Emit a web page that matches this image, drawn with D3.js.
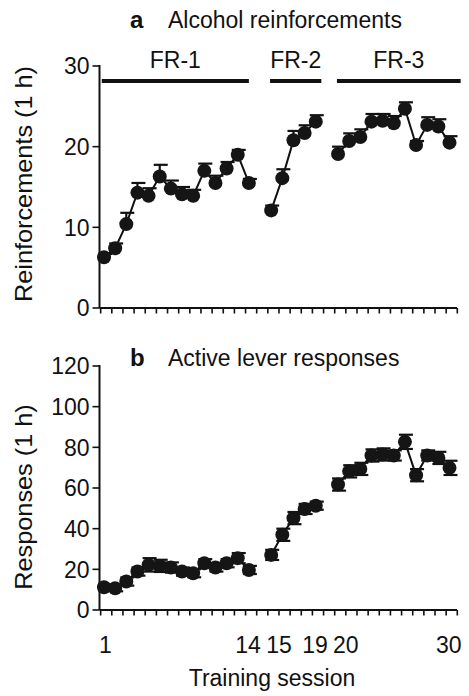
<!DOCTYPE html>
<head>
    <meta charset="utf-8">
    <style>
        body { margin: 0; background: #fff; }
        svg { display: block; font-family: "Liberation Sans", Arial, sans-serif; }
        text { fill: #111; }
    </style>
</head>
<body>
<svg width="469" height="696"></svg>
<script src="https://d3js.org/d3.v7.min.js"></script>
<script>

// training sessions and the three schedule phases
var sessions = [1, 2, 3, 4, 5, 6, 7, 8, 9, 10, 11, 12, 13, 14, 15, 16, 17, 18, 19, 20, 21, 22, 23, 24, 25, 26, 27, 28, 29, 30];
var phases = ["FR-1", "FR-2", "FR-3"];
var phaseFirst = [1, 15, 20];
var phaseLast = [14, 19, 30];
var phaseBarFrom = [0.8, 14.9, 19.9];
var phaseBarTo = [14, 19.5, 31];

// panel a: alcohol reinforcements (mean, sem)
var reinforcements = [6.3, 7.4, 10.4, 14.3, 13.9, 16.3, 14.8, 14.1, 13.9, 17.0, 15.5, 17.3, 19.0, 15.5,
                      12.1, 16.1, 20.8, 21.7, 23.1,
                      19.1, 20.7, 21.2, 23.1, 23.2, 22.9, 24.7, 20.2, 22.7, 22.5, 20.5];
var reinforcementsErr = [0.4, 0.6, 1.4, 1.2, 0.95, 1.45, 1.0, 0.9, 0.75, 0.9, 0.9, 0.8, 0.6, 0.5,
                         0.6, 1.1, 1.15, 0.95, 0.8,
                         0.9, 0.95, 0.95, 0.95, 0.85, 0.9, 0.8, 0.5, 0.95, 0.9, 0.8];

// panel b: active lever responses (mean, sem)
var responses = [11.2, 10.7, 14.0, 18.9, 22.2, 21.7, 20.9, 18.9, 18.1, 23.0, 20.9, 23.0, 25.5, 19.7,
                 27.1, 37.0, 45.2, 49.7, 51.3,
                 61.7, 68.2, 69.4, 76.0, 76.5, 76.0, 82.7, 66.3, 76.0, 74.8, 69.9];
var responsesErr = [1.5, 1.5, 2, 2, 3.3, 3, 2.5, 2, 2, 2, 2, 2, 2.5, 2,
                    2.5, 3, 3, 2.5, 2,
                    3, 3, 3, 3, 3, 2.5, 3.5, 3, 2.5, 3, 3.5];

var xLabels = [1, 14, 15, 19, 20, 30];
var ticksA = [0, 10, 20, 30];
var ticksB = [0, 20, 40, 60, 80, 100, 120];

var svg = d3.select("svg");
var ink = "#111";
var fs = "23px";

// the axis leaves one empty slot between phases
function slot(s) {
    return s - 1 + (s >= 15 ? 1 : 0) + (s >= 20 ? 1 : 0);
}

var x = d3.scaleLinear().domain([0, 31]).range([104, 449.5]);
var unit = x(1) - x(0);
var axisLeft = 99.5, axisRight = 457;

function panel(opts) {
    var y = d3.scaleLinear().domain([0, opts.max]).range([opts.bottom, opts.top]);
    var g = svg.append("g");

    var data = sessions.map(function(s, i) {
        return { s: s, v: opts.values[i], e: opts.errs[i] };
    });

    // axes
    g.append("line")
        .attr("x1", axisLeft).attr("x2", axisLeft)
        .attr("y1", y(opts.max) - 1).attr("y2", y(0))
        .attr("stroke", ink).attr("stroke-width", 2);
    g.append("line")
        .attr("x1", axisLeft).attr("x2", axisRight)
        .attr("y1", y(0)).attr("y2", y(0))
        .attr("stroke", ink).attr("stroke-width", 2);

    var yt = g.append("g").selectAll("g")
        .data(opts.ticks)
        .enter().append("g")
        .attr("transform", function(d) { return "translate(0," + y(d) + ")"; });
    yt.append("path")
        .attr("d", "M" + (axisLeft - 7) + ",0H" + axisLeft)
        .attr("stroke", ink).attr("stroke-width", 1.6).attr("fill", "none");
    yt.append("text")
        .attr("x", 89.5)
        .attr("dy", "0.36em")
        .attr("text-anchor", "end")
        .style("font-size", fs)
        .text(function(d) { return d; });

    g.append("g").selectAll("line")
        .data(d3.range(33))
        .enter().append("line")
        .attr("x1", function(k) { return x(k - 0.3); })
        .attr("x2", function(k) { return x(k - 0.3); })
        .attr("y1", y(0)).attr("y2", y(0) + 5.5)
        .attr("stroke", ink).attr("stroke-width", 1.6);

    // connecting lines inside each phase
    var line = d3.line()
        .x(function(d) { return x(slot(d.s)); })
        .y(function(d) { return y(d.v); });
    phases.forEach(function(p, i) {
        g.append("path")
            .datum(data.filter(function(d) { return d.s >= phaseFirst[i] && d.s <= phaseLast[i]; }))
            .attr("d", line)
            .attr("fill", "none")
            .attr("stroke", ink)
            .attr("stroke-width", 2);
    });

    // error bars
    var eb = g.append("g").selectAll("g")
        .data(data)
        .enter().append("g")
        .attr("stroke", ink)
        .attr("stroke-width", 2.2);
    eb.append("line")
        .attr("x1", function(d) { return x(slot(d.s)); })
        .attr("x2", function(d) { return x(slot(d.s)); })
        .attr("y1", function(d) { return y(d.v + d.e); })
        .attr("y2", function(d) { return y(opts.upperOnly ? d.v : d.v - d.e); });
    eb.append("line")
        .attr("x1", function(d) { return x(slot(d.s)) - 6; })
        .attr("x2", function(d) { return x(slot(d.s)) + 8; })
        .attr("y1", function(d) { return y(d.v + d.e); })
        .attr("y2", function(d) { return y(d.v + d.e); });
    if (!opts.upperOnly) {
        eb.append("line")
            .attr("x1", function(d) { return x(slot(d.s)) - 6; })
            .attr("x2", function(d) { return x(slot(d.s)) + 8; })
            .attr("y1", function(d) { return y(d.v - d.e); })
            .attr("y2", function(d) { return y(d.v - d.e); });
    }

    g.append("g").selectAll("circle")
        .data(data)
        .enter().append("circle")
        .attr("cx", function(d) { return x(slot(d.s)); })
        .attr("cy", function(d) { return y(d.v); })
        .attr("r", 7)
        .attr("fill", "#151515");

    // panel title
    g.append("text")
        .attr("x", 130).attr("y", opts.titleY)
        .style("font-size", "24px").style("font-weight", "bold")
        .text(opts.letter);
    g.append("text")
        .attr("x", 168).attr("y", opts.titleY)
        .style("font-size", fs)
        .text(opts.title);

    g.append("text")
        .attr("transform", "translate(32," + opts.labelY + ")rotate(-90)scale(1.1,1)")
        .attr("text-anchor", "middle")
        .style("font-size", fs)
        .text(opts.ylabel);

    return y;
}

panel({
    values: reinforcements, errs: reinforcementsErr, max: 30, ticks: ticksA,
    top: 66, bottom: 308, upperOnly: true,
    letter: "a", title: "Alcohol reinforcements", titleY: 28,
    ylabel: "Reinforcements (1 h)", labelY: 184
});

panel({
    values: responses, errs: responsesErr, max: 120, ticks: ticksB,
    top: 366, bottom: 610, upperOnly: false,
    letter: "b", title: "Active lever responses", titleY: 366,
    ylabel: "Responses (1 h)", labelY: 497
});

// schedule bars above panel a
function barStart(i) { return x(slot(phaseFirst[i])) - (phaseFirst[i] - phaseBarFrom[i]) * unit; }
function barEnd(i) { return x(slot(phaseLast[i])) + (phaseBarTo[i] - phaseLast[i]) * unit; }

var fr = svg.append("g").selectAll("g")
    .data(phases)
    .enter().append("g");
fr.append("line")
    .attr("x1", function(d, i) { return barStart(i); })
    .attr("x2", function(d, i) { return barEnd(i); })
    .attr("y1", 81).attr("y2", 81)
    .attr("stroke", ink).attr("stroke-width", 4);
fr.append("text")
    .attr("x", function(d, i) { return (barStart(i) + barEnd(i)) / 2; })
    .attr("y", 68)
    .attr("text-anchor", "middle")
    .style("font-size", fs)
    .text(function(d) { return d; });

// session labels under panel b: phase starts lean right, phase ends lean left
svg.append("g").selectAll("text")
    .data(xLabels)
    .enter().append("text")
    .attr("x", function(d) {
        return phaseFirst.indexOf(d) >= 0 ? x(slot(d)) - 5 : x(slot(d)) + 12;
    })
    .attr("y", 653)
    .attr("text-anchor", function(d) { return phaseFirst.indexOf(d) >= 0 ? "start" : "end"; })
    .style("font-size", fs)
    .text(function(d) { return d; });

svg.append("text")
    .attr("x", 272).attr("y", 686)
    .attr("text-anchor", "middle")
    .style("font-size", fs)
    .text("Training session");

</script>
</body>
